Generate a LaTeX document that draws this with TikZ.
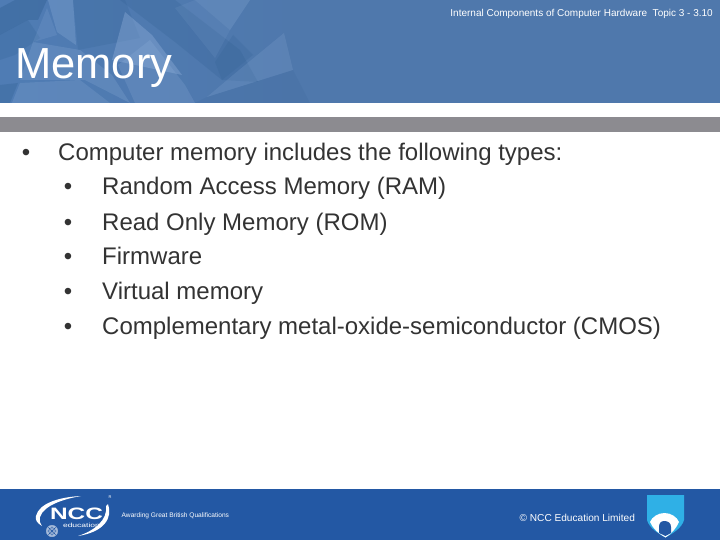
\documentclass[tikz,border=0pt]{standalone}
\usepackage{fontspec}
\setmainfont{Liberation Sans}
\definecolor{hdr}{HTML}{4F78AC}
\definecolor{hdrleft}{HTML}{4F7CB4}
\definecolor{hdrdark}{HTML}{2F5F92}
\definecolor{hdrlight}{HTML}{9DBBE2}
\definecolor{rulegray}{HTML}{8C8B90}
\definecolor{foot}{HTML}{2358A4}
\definecolor{bodytext}{HTML}{333333}
\definecolor{shieldblue}{HTML}{2FB0E6}
\tikzset{
  x=1pt,y=-1pt,
  lite/.style={fill=hdrlight,draw=none,fill opacity=#1},
  dark/.style={fill=hdrdark,draw=none,fill opacity=#1},
  body/.style={anchor=base west,inner sep=0pt,text=bodytext,font=\fontsize{24}{28}\selectfont},
  bul/.style={anchor=base,inner sep=0pt,text=bodytext,font=\fontsize{24}{28}\selectfont},
  small/.style={inner sep=0pt,text=white,font=\fontsize{10}{12}\selectfont},
}
\begin{document}
\begin{tikzpicture}
\useasboundingbox (0,0) rectangle (720,540);
\fill[white] (0,0) rectangle (720,540);
% header band
\fill[hdr] (0,0) rectangle (720,103);
\begin{scope}
\clip (0,0) rectangle (720,103);
\shade[left color=hdrleft,right color=hdr] (0,0) rectangle (300,103);
\fill[dark=.4] (0,8) -- (15,0) -- (47,0) -- (38,20) -- (28,20) -- (0,35) -- cycle;
\fill[dark=.22] (0,35) -- (28,20) -- (40,38) -- (15,55) -- (0,60) -- cycle;
\fill[lite=.24] (48,0) -- (73,0) -- (76,45) -- (57,32) -- cycle;
\fill[lite=.15] (47,8) -- (57,35) -- (33,42) -- cycle;
\fill[dark=.2] (73,0) -- (125,0) -- (140,38) -- (78,50) -- cycle;
\fill[lite=.2] (33,42) -- (80,50) -- (112,75) -- (130,103) -- (85,80) -- (20,80) -- cycle;
\fill[lite=.18] (12,103) -- (20,83) -- (80,80) -- (110,103) -- cycle;
\fill[lite=.32] (125,12) -- (152,35) -- (182,75) -- (112,60) -- cycle;
\fill[lite=.18] (150,40) -- (185,85) -- (195,103) -- (135,103) -- (118,65) -- cycle;
\fill[dark=.24] (120,0) -- (175,0) -- (240,50) -- (258,82) -- (222,80) -- (175,42) -- cycle;
\fill[lite=.2] (195,0) -- (250,0) -- (230,30) -- cycle;
\fill[lite=.1] (175,8) -- (195,0) -- (230,30) -- (215,58) -- cycle;
\fill[dark=.2] (215,62) -- (233,35) -- (253,55) -- (222,80) -- cycle;
\fill[lite=.16] (233,75) -- (284,33) -- (293,70) -- (207,97) -- cycle;
\fill[dark=.12] (207,97) -- (293,70) -- (310,103) -- (195,103) -- cycle;
\fill[dark=.3] (0,85) -- (18,83) -- (10,103) -- (0,103) -- cycle;
\end{scope}
\fill[rulegray] (0,117) rectangle (720,132);
\fill[foot] (0,489) rectangle (720,540);
% header text
\node[small,anchor=base east] (topic) at (713,17) {Internal Components of Computer Hardware\ \ Topic 3 - 3.10};
\node[anchor=base west,inner sep=0pt,text=white,font=\fontsize{43.5}{52}\selectfont] (title) at (15,79) {Memory};
% body
\node[bul] (b0) at (26,161) {•};
\node[body] (t0) at (58,161) {Computer memory includes the following types:};
\node[bul] (b1) at (68,195) {•};
\node[body] (t1) at (102,195) {Random Access Memory (RAM)};
\node[bul] (b2) at (68,230) {•};
\node[body] (t2) at (102,230) {Read Only Memory (ROM)};
\node[bul] (b3) at (68,264) {•};
\node[body] (t3) at (102,264) {Firmware};
\node[bul] (b4) at (68,299) {•};
\node[body] (t4) at (102,299) {Virtual memory};
\node[bul] (b5) at (68,334) {•};
\node[body] (t5) at (102,334) {Complementary metal-oxide-semiconductor (CMOS)};
% logo
\fill[white] (36,516) .. controls (39,503) and (60,497) .. (81,496) .. controls (64,499) and (44,505) .. (40,517) .. controls (39,520) and (40,523) .. (42,526) .. controls (37,523) and (35,520) .. (36,516) -- cycle;
\fill[white] (108,504) .. controls (113,518) and (104,532) .. (78,536) .. controls (94,531) and (108,520) .. (106,506) -- cycle;
\node[inner sep=0pt,text=white,font=\bfseries\fontsize{16.5}{17}\selectfont,anchor=base,xscale=1.48] (ncc) at (76.5,519) {NCC};
\node[inner sep=0pt,text=white,font=\fontsize{6}{7}\selectfont,anchor=base,xscale=1.42] (edu) at (81.5,527) {education};
\node[inner sep=0pt,text=white,font=\fontsize{4}{4}\selectfont] (reg) at (110,497) {R};
\node[circle,minimum size=12pt,inner sep=0pt,fill=white,fill opacity=.6] (globe) at (52,531) {};
\draw[foot,line width=.35pt] (globe) circle (3.5) (globe.west) -- (globe.east) (globe.north) -- (globe.south) (globe.north west) -- (globe.south east) (globe.north east) -- (globe.south west);
\node[inner sep=0pt,text=white,anchor=west,font=\fontsize{6.6}{8}\selectfont] (award) at (121.5,516) {Awarding Great British Qualifications};
\node[small,anchor=base west,font=\fontsize{10.1}{12}\selectfont] (copy) at (519.5,521) {© NCC Education Limited};
% shield
\fill[shieldblue] (647,495) -- (684,495) -- (684,520) .. controls (682,528) and (672,534) .. (665.5,537.5) .. controls (659,534) and (649,528) .. (647,520) -- cycle;
\fill[white] (650,522) .. controls (652,517) and (658,513) .. (664.5,513) .. controls (671,513) and (677,517) .. (679,522) .. controls (676,529) and (671,534) .. (665.5,537.5) .. controls (659,534) and (653,529) .. (650,522) -- cycle;
\fill[foot] (659,533) -- (659,527) .. controls (659,523) and (661,521) .. (664.5,521) .. controls (668,521) and (671,523) .. (671,527) -- (671,533) -- (665.5,536) -- cycle;
\end{tikzpicture}
\end{document}
